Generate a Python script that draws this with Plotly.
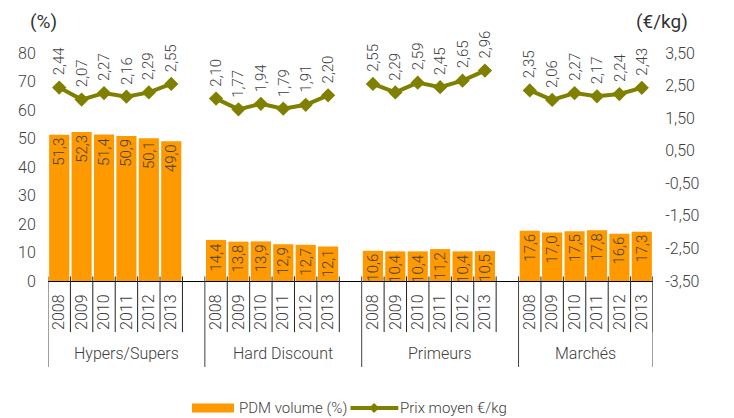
import plotly.graph_objects as go

# Channels and years
channels = ["Hypers/Supers", "Hard Discount", "Primeurs", "Marchés"]
years = ["2008", "2009", "2010", "2011", "2012", "2013"]

# Volume market share (%) per channel, 2008-2013
pdm_hypers = [51.3, 52.3, 51.4, 50.9, 50.1, 49.0]
pdm_hd = [14.4, 13.8, 13.9, 12.9, 12.7, 12.1]
pdm_primeurs = [10.6, 10.4, 10.4, 11.2, 10.4, 10.5]
pdm_marches = [17.6, 17.0, 17.5, 17.8, 16.6, 17.3]

# Average price (€/kg) per channel, 2008-2013
prix_hypers = [2.44, 2.07, 2.27, 2.16, 2.29, 2.55]
prix_hd = [2.10, 1.77, 1.94, 1.79, 1.91, 2.20]
prix_primeurs = [2.55, 2.29, 2.59, 2.45, 2.65, 2.96]
prix_marches = [2.35, 2.06, 2.27, 2.17, 2.24, 2.43]

# Right axis ticks
right_ticks = [-3.5, -2.5, -1.5, -0.5, 0.5, 1.5, 2.5, 3.5]
right_ticktext = ["-3,50", "-2,50", "-1,50", "-0,50", "0,50", "1,50", "2,50", "3,50"]

pdm = [pdm_hypers, pdm_hd, pdm_primeurs, pdm_marches]
prix = [prix_hypers, prix_hd, prix_primeurs, prix_marches]

ORANGE = "#FF9900"
OLIVE = "#808000"
TXT = "#404040"
FONT = "Roboto"
SLOT = len(years) + 1  # one empty slot between channels

bar_x, bar_y, line_x, line_y = [], [], [], []
tick_pos, tick_txt = [], []
for g in range(len(channels)):
    for j in range(len(years)):
        p = g * SLOT + j
        bar_x.append(p)
        bar_y.append(pdm[g][j])
        line_x.append(p)
        line_y.append(prix[g][j])
        tick_pos.append(p)
        tick_txt.append(years[j])
    line_x.append(None)
    line_y.append(None)

x_end = (len(channels) - 1) * SLOT + len(years) - 0.5

fig = go.Figure()
fig.add_trace(go.Bar(
    x=bar_x, y=bar_y, name="PDM volume (%)",
    marker=dict(color=ORANGE, line=dict(width=0)),
    texttemplate="%{y:.1f}", textposition="inside", insidetextanchor="end",
    textangle=-90, constraintext="none",
    textfont=dict(family=FONT, size=15, color=TXT, weight=300),
    yaxis="y", showlegend=False,
))
fig.add_trace(go.Scatter(
    x=line_x, y=line_y, name="Prix moyen €/kg", mode="lines+markers",
    line=dict(color=OLIVE, width=4),
    marker=dict(symbol="diamond", size=11, color=OLIVE),
    yaxis="y2", connectgaps=False, showlegend=False,
))

shapes = []
annotations = []
for g in range(len(channels)):
    start = g * SLOT - 0.5
    end = min(g * SLOT + SLOT - 0.5, x_end)
    # long channel separator
    shapes.append(dict(type="line", xref="x", yref="paper", x0=start, x1=start,
                       y0=0.02, y1=-0.377, line=dict(color=TXT, width=1)))
    # short year separators
    for j in range(1, len(years) + 1):
        xx = start + j
        shapes.append(dict(type="line", xref="x", yref="paper", x0=xx, x1=xx,
                           y0=0.02, y1=-0.224, line=dict(color="#222", width=1)))
    annotations.append(dict(x=(start + end) / 2, xref="x", y=-0.32, yref="paper",
                            text=channels[g], showarrow=False, yanchor="middle",
                            font=dict(family=FONT, size=16, color=TXT, weight=300)))
shapes.append(dict(type="line", xref="x", yref="paper", x0=x_end, x1=x_end,
                   y0=0.02, y1=-0.377, line=dict(color=TXT, width=1)))

# price labels above markers
for xx, yy in zip(line_x, line_y):
    if xx is None:
        continue
    annotations.append(dict(x=xx, y=yy, xref="x", yref="y2",
                            text=f"{yy:.2f}".replace(".", ","), showarrow=False,
                            textangle=-90, yanchor="bottom", xanchor="center", yshift=10,
                            font=dict(family=FONT, size=15, color=TXT, weight=300)))

# axis unit titles
annotations.append(dict(x=-0.033, y=1.136, xref="paper", yref="paper", text="(%)",
                        showarrow=False, yanchor="middle",
                        font=dict(family=FONT, size=19, color="#333")))
annotations.append(dict(x=1.061, y=1.136, xref="paper", yref="paper", text="(€/kg)",
                        showarrow=False, yanchor="middle",
                        font=dict(family=FONT, size=19, color="#333")))

# legend drawn below the channel labels
LEG_Y = -0.557
legend_font = dict(family=FONT, size=15, color=TXT, weight=300)
shapes.append(dict(type="rect", xref="paper", yref="paper", x0=0.238, x1=0.3074,
                   y0=LEG_Y - 0.02, y1=LEG_Y + 0.02, fillcolor=ORANGE,
                   line=dict(width=0)))
annotations.append(dict(x=0.3125, y=LEG_Y, xref="paper", yref="paper",
                        text="PDM volume (%)", showarrow=False, xanchor="left",
                        yanchor="middle", font=legend_font))
shapes.append(dict(type="line", xref="paper", yref="paper", x0=0.5, x1=0.579,
                   y0=LEG_Y, y1=LEG_Y, line=dict(color=OLIVE, width=4)))
cx, dx, dy = 0.539, 0.0083, 0.022
shapes.append(dict(type="path", xref="paper", yref="paper",
                   path=f"M{cx - dx},{LEG_Y} L{cx},{LEG_Y + dy} L{cx + dx},{LEG_Y} L{cx},{LEG_Y - dy} Z",
                   fillcolor=OLIVE, line=dict(width=0)))
annotations.append(dict(x=0.579, y=LEG_Y, xref="paper", yref="paper",
                        text="Prix moyen €/kg", showarrow=False, xanchor="left",
                        yanchor="middle", font=legend_font))

fig.update_layout(
    width=734, height=418,
    margin=dict(l=48, r=81, t=53, b=137, autoexpand=False),
    paper_bgcolor="white", plot_bgcolor="white",
    separators=", ",
    bargap=0.1,
    showlegend=False,
    font=dict(family=FONT, color=TXT),
    xaxis=dict(range=[-0.5, x_end], tickvals=tick_pos, ticktext=tick_txt,
               tickangle=-90, ticks="outside", ticklen=6, tickcolor="rgba(0,0,0,0)",
               showline=True, linecolor="black", linewidth=1, showgrid=False,
               zeroline=False, automargin=False,
               tickfont=dict(family=FONT, size=16, color=TXT, weight=300)),
    yaxis=dict(range=[0, 80], dtick=10, tick0=0, showgrid=False, zeroline=False,
               showline=False, ticks="outside", ticklen=8, tickcolor="rgba(0,0,0,0)",
               automargin=False,
               tickfont=dict(family=FONT, size=16, color=TXT, weight=300)),
    yaxis2=dict(range=[-3.5, 3.5], overlaying="y", side="right",
                tickvals=right_ticks, ticktext=right_ticktext,
                showgrid=False, zeroline=False, showline=False,
                ticks="outside", ticklen=8, tickcolor="rgba(0,0,0,0)",
                automargin=False,
                tickfont=dict(family=FONT, size=16, color=TXT, weight=300)),
    shapes=shapes, annotations=annotations,
)

fig.write_html("out.html")
